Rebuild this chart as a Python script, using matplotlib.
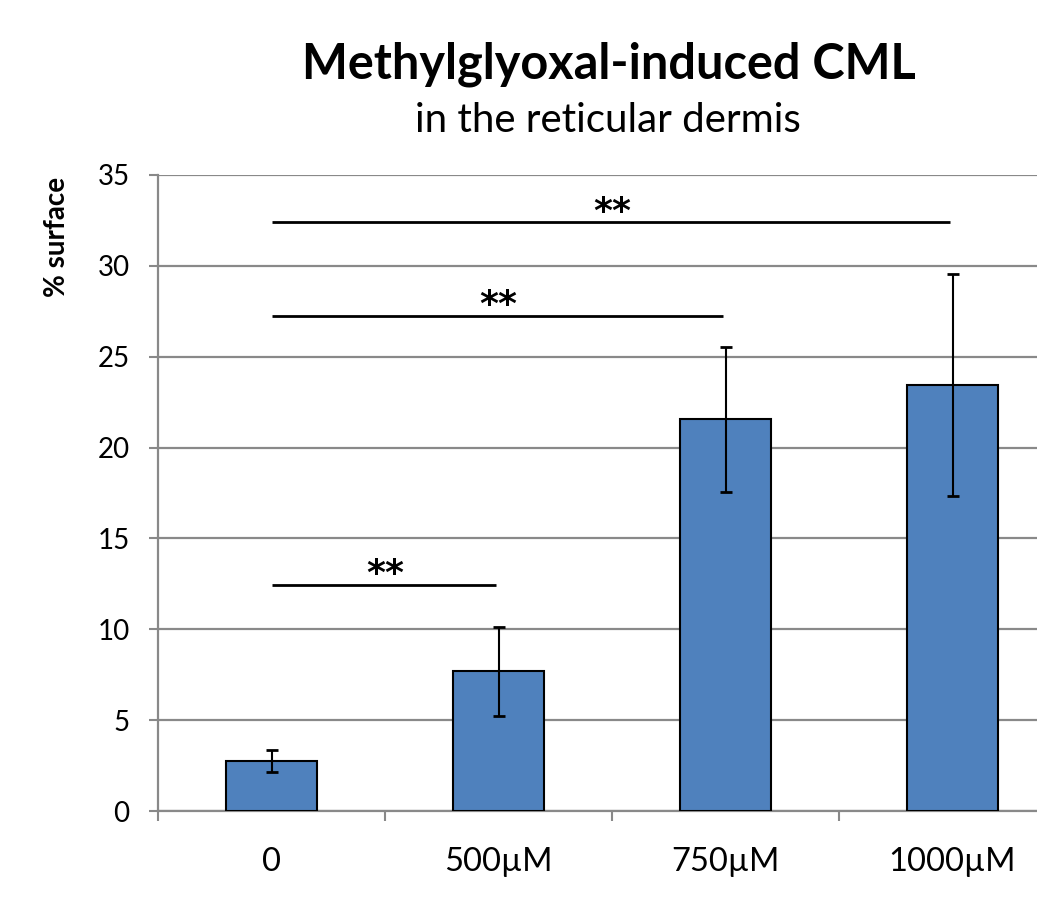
import matplotlib
matplotlib.use("Agg")
import matplotlib.pyplot as plt
import numpy as np

categories = ["0", "500µM", "750µM", "1000µM"]
means = [2.75, 7.7, 21.55, 23.45]
errors = [0.6, 2.45, 4.0, 6.1]
sig_pairs = [(0, 1), (0, 2), (0, 3)]
sig_heights = [12.45, 27.25, 32.4]
sig_labels = ["**", "**", "**"]
yticks = [0, 5, 10, 15, 20, 25, 30, 35]

plt.rcParams['font.family'] = ['Lato', 'DejaVu Sans']

W, H = 1037, 901
fig = plt.figure(figsize=(W / 100, H / 100), dpi=100)
ax_left, ax_bottom = 158 / W, (H - 811) / H
ax = fig.add_axes([ax_left, ax_bottom, 908 / W, 636 / H])

x = np.arange(len(categories))
ax.bar(x, means, width=0.4, color="#4F81BD", edgecolor="black", linewidth=1.5, zorder=3)
ax.errorbar(x, means, yerr=errors, fmt="none", ecolor="black", elinewidth=1.5,
            capsize=4.5, capthick=2, zorder=4)

for (a, b), h, lab in zip(sig_pairs, sig_heights, sig_labels):
    ax.plot([a, b - 0.01], [h, h], color="black", linewidth=2, zorder=5, solid_capstyle="butt")
    ax.annotate(lab, xy=((a + b) / 2, h), xytext=(0, 0.5), textcoords="offset points",
                ha="center", va="baseline", fontsize=26, fontweight="bold",
                family=["DejaVu Sans"], zorder=5)

ax.set_xlim(-0.5, 3.5)
ax.set_ylim(0, 35)
ax.set_yticks(yticks)
ax.tick_params(axis="y", labelsize=20, length=6.5, width=1.5, color="#898989", pad=14, direction="out")
ax.set_xticks(x)
ax.set_xticklabels(categories)
ax.set_xticks(np.arange(-0.5, 3.6, 1.0), minor=True)
ax.tick_params(axis="x", which="major", labelsize=23.5, length=0, pad=26)
ax.tick_params(axis="x", which="minor", length=7.5, width=1.5, color="#898989", direction="out")

ax.grid(axis="y", color="#898989", linewidth=1.6, zorder=0)
ax.set_axisbelow(True)
for s in ["top", "right"]:
    ax.spines[s].set_visible(False)
for s in ["left", "bottom"]:
    ax.spines[s].set_color("#898989")
    ax.spines[s].set_linewidth(1.6)

fig.text(609 / W, 1 - 64 / H, "Methylglyoxal-induced CML", ha="center", va="center",
         fontsize=35, fontweight="bold")
fig.text(608 / W, 1 - 121 / H, "in the reticular dermis", ha="center", va="center",
         fontsize=29)
fig.text(57 / W, 1 - 237 / H, "% surface", ha="center", va="center", rotation=90,
         fontsize=20, fontweight="bold")

fig.savefig("out.png", dpi=100)
